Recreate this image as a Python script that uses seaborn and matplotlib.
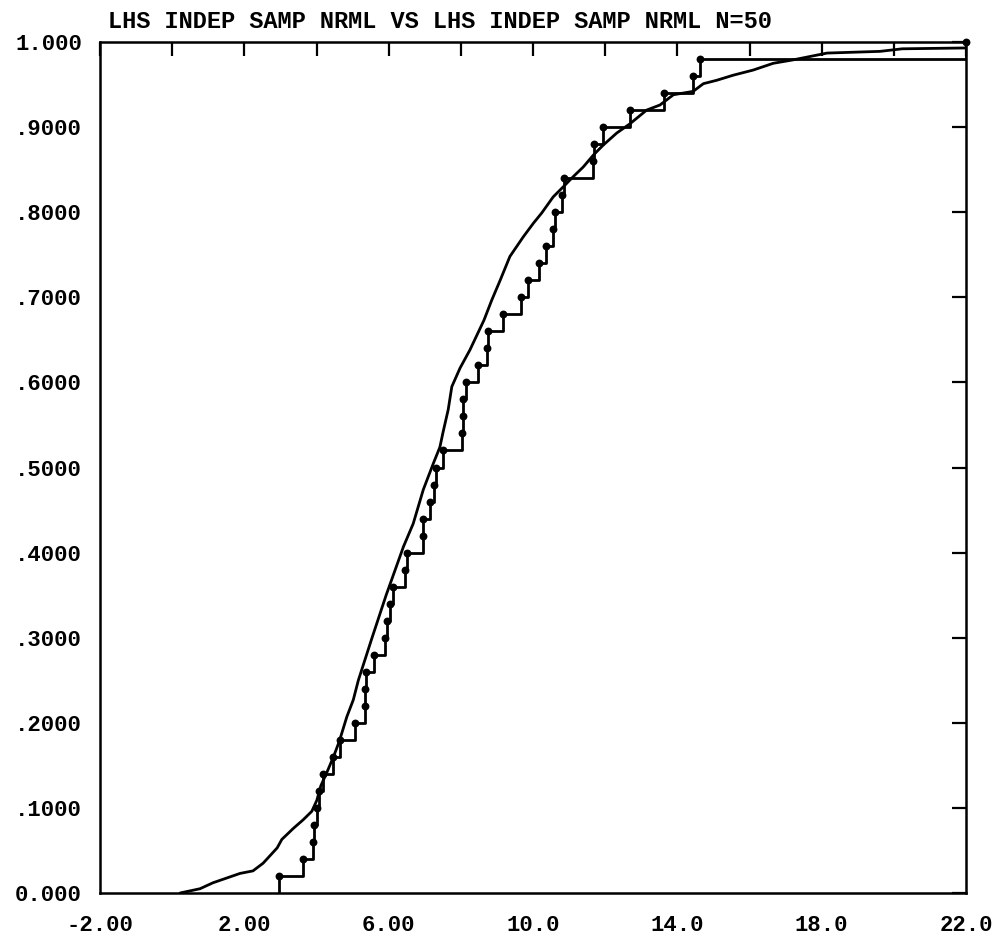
import numpy as np
import pandas as pd
import matplotlib
matplotlib.use("Agg")
import matplotlib.pyplot as plt
import seaborn as sns

# ---- data ----
title = "LHS INDEP SAMP NRML VS LHS INDEP SAMP NRML N=50"

# N=50 sample (sorted) whose empirical CDF is the stepped line with dots
sample50 = [2.96, 3.63, 3.90, 3.93, 4.01, 4.07, 4.18, 4.46, 4.65, 5.07,
            5.34, 5.35, 5.36, 5.59, 5.90, 5.95, 6.04, 6.12, 6.45, 6.51,
            6.94, 6.96, 7.15, 7.26, 7.31, 7.50, 8.02, 8.05, 8.07, 8.14,
            8.48, 8.73, 8.75, 9.17, 9.66, 9.85, 10.17, 10.36, 10.56, 10.61,
            10.80, 10.87, 11.66, 11.68, 11.95, 12.69, 13.63, 14.43, 14.63, 22.0]

# reference CDF (the near-smooth curve)
curve_x = [0.22, 0.77, 1.13, 1.88, 2.24, 2.52, 2.91, 3.04, 3.36, 3.63,
           3.87, 4.01, 4.12, 4.28, 4.47, 4.63, 4.84, 5.02, 5.16, 5.54,
           5.93, 6.41, 6.68, 6.96, 7.24, 7.42, 7.51, 7.65, 7.75, 7.98,
           8.25, 8.64, 8.86, 9.09, 9.36, 9.73, 10.01, 10.24, 10.56, 10.89,
           11.12, 11.39, 11.67, 11.95, 12.32, 12.69, 13.15, 13.52, 13.89, 14.44,
           14.72, 15.09, 15.55, 16.10, 16.66, 17.21, 17.68, 18.15, 19.62, 20.23,
           22.0]
curve_y = [0.000, 0.005, 0.012, 0.023, 0.026, 0.035, 0.053, 0.063, 0.076, 0.086,
           0.096, 0.109, 0.126, 0.141, 0.160, 0.178, 0.207, 0.227, 0.250, 0.300,
           0.350, 0.407, 0.434, 0.474, 0.505, 0.524, 0.542, 0.568, 0.595, 0.617,
           0.638, 0.673, 0.697, 0.720, 0.748, 0.771, 0.787, 0.799, 0.818, 0.832,
           0.842, 0.853, 0.867, 0.879, 0.893, 0.904, 0.920, 0.926, 0.938, 0.942,
           0.951, 0.955, 0.961, 0.967, 0.975, 0.979, 0.983, 0.987, 0.989, 0.992,
           0.993]

x_ticks = [-2, 0, 2, 4, 6, 8, 10, 12, 14, 16, 18, 20, 22]
x_ticklabels = ["-2.00", "", "2.00", "", "6.00", "", "10.0", "", "14.0", "", "18.0", "", "22.0"]
y_ticks = [0.0, 0.1, 0.2, 0.3, 0.4, 0.5, 0.6, 0.7, 0.8, 0.9, 1.0]
y_ticklabels = ["0.000", ".1000", ".2000", ".3000", ".4000", ".5000",
                ".6000", ".7000", ".8000", ".9000", "1.000"]

# ---- styling ----
sns.set_theme(style="white")
plt.rcParams["font.family"] = ["Liberation Mono", "DejaVu Sans Mono"]

W, H = 1005, 939
fig = plt.figure(figsize=(W / 100, H / 100), dpi=100)
ax = fig.add_axes([100 / W, (H - 893) / H, 866 / W, 851 / H])

curve = pd.DataFrame({"x": curve_x, "y": curve_y})
sns.lineplot(data=curve, x="x", y="y", sort=False, estimator=None,
             color="black", linewidth=2.0, ax=ax)

samp = pd.DataFrame({"x": sample50})
sns.ecdfplot(data=samp, x="x", color="black", linewidth=2.0, ax=ax)

sorted_x = np.sort(np.asarray(sample50))
ranks = np.arange(1, len(sorted_x) + 1) / len(sorted_x)
sns.scatterplot(x=sorted_x, y=ranks, color="black", edgecolor="black",
                s=32, linewidth=0, zorder=4, clip_on=False, ax=ax)

ax.set_xlim(-2, 22)
ax.set_ylim(0, 1)
ax.set_xlabel("")
ax.set_ylabel("")

for sp in ax.spines.values():
    sp.set_color("black")
    sp.set_linewidth(1.8)
    sp.set_visible(True)

ax.set_xticks(x_ticks)
ax.set_xticklabels(x_ticklabels, fontweight="bold")
ax.set_yticks(y_ticks)
ax.set_yticklabels(y_ticklabels, fontweight="bold")
ax.tick_params(axis="both", which="major", direction="in", length=10, width=1.6,
               color="black", top=True, right=True, labelsize=16, labelcolor="black")
ax.tick_params(axis="x", pad=16)
ax.tick_params(axis="y", pad=13)

fig.text(108 / W, 1 - 21 / H, title, ha="left", va="center", fontsize=17,
         fontweight="bold", color="black")

fig.savefig("out.png", dpi=100, facecolor="white")
